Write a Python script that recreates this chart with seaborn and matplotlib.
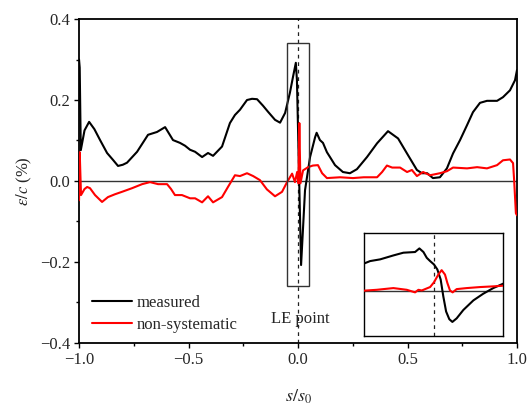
import numpy as np
import pandas as pd
import matplotlib
matplotlib.use("Agg")
import matplotlib.pyplot as plt
from matplotlib.patches import Rectangle
from matplotlib.ticker import MultipleLocator
import seaborn as sns

# Measured error along the normalised surface coordinate
s_measured = [-1.0, -0.997, -0.992, -0.975, -0.954, -0.930, -0.904, -0.872, -0.845,
              -0.822, -0.800, -0.781, -0.735, -0.685, -0.644, -0.607, -0.571, -0.539,
              -0.516, -0.493, -0.470, -0.438, -0.411, -0.388, -0.347, -0.311, -0.288,
              -0.265, -0.233, -0.210, -0.187, -0.160, -0.137, -0.105, -0.082, -0.059,
              -0.037, -0.023, -0.010, -0.005, 0.014, 0.032, 0.055, 0.078, 0.085,
              0.100, 0.114, 0.132, 0.146, 0.169, 0.205, 0.237, 0.269, 0.315, 0.361,
              0.411, 0.457, 0.502, 0.543, 0.566, 0.590, 0.616, 0.648, 0.680, 0.708,
              0.740, 0.772, 0.799, 0.831, 0.863, 0.909, 0.936, 0.968, 0.991, 1.0]
e_measured = [0.300, 0.280, 0.076, 0.125, 0.146, 0.128, 0.101, 0.069, 0.052,
              0.037, 0.040, 0.045, 0.072, 0.114, 0.121, 0.133, 0.101, 0.094,
              0.087, 0.077, 0.072, 0.059, 0.069, 0.062, 0.085, 0.143, 0.163,
              0.176, 0.200, 0.203, 0.202, 0.186, 0.171, 0.151, 0.144, 0.168,
              0.218, 0.257, 0.292, 0.250, -0.208, -0.023, 0.059, 0.108, 0.119,
              0.101, 0.094, 0.071, 0.059, 0.039, 0.022, 0.019, 0.029, 0.059, 0.093,
              0.123, 0.105, 0.064, 0.027, 0.019, 0.019, 0.007, 0.009, 0.031, 0.068,
              0.101, 0.138, 0.170, 0.193, 0.198, 0.198, 0.207, 0.224, 0.249, 0.274]

# Non-systematic part of the error
s_nonsys = [-1.0, -0.997, -0.991, -0.975, -0.963, -0.950, -0.927, -0.895, -0.868,
            -0.836, -0.804, -0.758, -0.712, -0.676, -0.639, -0.598, -0.580, -0.562,
            -0.530, -0.493, -0.470, -0.438, -0.411, -0.388, -0.347, -0.320, -0.288,
            -0.265, -0.233, -0.205, -0.174, -0.142, -0.105, -0.073, -0.050, -0.027,
            -0.014, -0.004, 0.002, 0.006, 0.011, 0.023, 0.046, 0.068, 0.091, 0.110,
            0.132, 0.192, 0.251, 0.300, 0.361, 0.384, 0.406, 0.430, 0.466, 0.498,
            0.520, 0.543, 0.571, 0.603, 0.648, 0.680, 0.708, 0.772, 0.818, 0.863,
            0.909, 0.936, 0.968, 0.982, 0.987, 0.995, 1.0]
e_nonsys = [-0.048, 0.071, -0.035, -0.020, -0.015, -0.018, -0.035, -0.052, -0.040,
            -0.033, -0.027, -0.018, -0.008, -0.003, -0.008, -0.008, -0.020, -0.035,
            -0.035, -0.043, -0.043, -0.053, -0.038, -0.053, -0.040, -0.015, 0.014,
            0.012, 0.019, 0.012, 0.002, -0.021, -0.038, -0.027, -0.003, 0.018,
            -0.003, 0.022, -0.006, 0.143, -0.006, 0.026, 0.034, 0.038, 0.039, 0.019,
            0.007, 0.009, 0.007, 0.009, 0.009, 0.022, 0.038, 0.033, 0.033, 0.022,
            0.027, 0.012, 0.022, 0.014, 0.019, 0.024, 0.033, 0.031, 0.034, 0.031,
            0.039, 0.051, 0.053, 0.044, 0.002, -0.080, -0.085]

# Detail around the leading edge (inset)
s_le_measured = [-0.050, -0.0457, -0.0385, -0.029, -0.0218, -0.0134, -0.0103, -0.0074,
                 -0.005, -0.0026, 0.0002, 0.0026, 0.005, 0.0069, 0.0089, 0.0112,
                 0.0134, 0.0165, 0.0213, 0.0285, 0.0356, 0.0428, 0.050]
e_le_measured = [0.163, 0.177, 0.187, 0.210, 0.226, 0.230, 0.251, 0.230,
                 0.196, 0.177, 0.157, 0.128, 0.069, -0.030, -0.118, -0.163,
                 -0.179, -0.158, -0.109, -0.053, -0.014, 0.019, 0.045]
s_le_nonsys = [-0.050, -0.0409, -0.029, -0.0194, -0.0134, -0.011, -0.0086, -0.0062,
               -0.0026, 0.0002, 0.0033, 0.0057, 0.0081, 0.0098, 0.0117, 0.0136,
               0.0165, 0.0237, 0.0333, 0.0428, 0.050]
e_le_nonsys = [0.004, 0.009, 0.019, 0.009, -0.006, 0.009, 0.005, 0.013,
               0.025, 0.053, 0.098, 0.124, 0.098, 0.049, 0.005, -0.006,
               0.013, 0.019, 0.025, 0.029, 0.033]

series_labels = ["measured", "non-systematic"]
series_colors = ["#000000", "#ff0000"]

sns.set_theme(style="ticks")
plt.rcParams["font.family"] = ["Liberation Serif", "DejaVu Serif"]
plt.rcParams["mathtext.fontset"] = "stix"

fig = plt.figure(figsize=(5.27, 4.07), dpi=100)
ax = fig.add_axes([0.150, 0.158, 0.831, 0.795])

df = pd.concat([
    pd.DataFrame({"s": s_measured, "e": e_measured, "kind": series_labels[0]}),
    pd.DataFrame({"s": s_nonsys, "e": e_nonsys, "kind": series_labels[1]}),
])

ax.axhline(0, color="#333333", lw=1.0, zorder=1)
ax.axvline(0, color="#222222", lw=0.9, ls=(0, (3, 3)), zorder=1)

sns.lineplot(data=df, x="s", y="e", hue="kind", palette=series_colors,
             sort=False, estimator=None, lw=1.5, ax=ax, zorder=3)

ax.add_patch(Rectangle((-0.05, -0.26), 0.10, 0.60, fill=False,
                       edgecolor="#333333", lw=1.0, zorder=4))
ax.text(0.01, -0.342, "LE point", ha="center", va="center", fontsize=12)

ax.set_xlim(-1.0, 1.0)
ax.set_ylim(-0.4, 0.4)
ax.xaxis.set_major_locator(MultipleLocator(0.5))
ax.xaxis.set_minor_locator(MultipleLocator(0.25))
ax.yaxis.set_major_locator(MultipleLocator(0.2))
ax.yaxis.set_minor_locator(MultipleLocator(0.1))
ax.xaxis.set_major_formatter(matplotlib.ticker.FuncFormatter(
    lambda v, p: f"{v:.1f}".replace("-", "\u2212")))
ax.yaxis.set_major_formatter(matplotlib.ticker.FuncFormatter(
    lambda v, p: f"{v:.1f}".replace("-", "\u2212")))
ax.tick_params(which="major", direction="out", length=3.5, width=1.0,
               labelsize=12, pad=3, color="black")
ax.tick_params(which="minor", direction="out", length=2.2, width=1.0, color="black")
for sp in ax.spines.values():
    sp.set_linewidth(1.3)
    sp.set_color("black")

ax.set_xlabel(r"$s/s_{\mathit{0}}$", fontsize=13, labelpad=14)
ax.set_ylabel(r"$\varepsilon/c$ (%)", fontsize=12, labelpad=4)

ax.legend(loc="lower left", bbox_to_anchor=(0.0, -0.008), frameon=False,
          fontsize=12, handlelength=2.4, handletextpad=0.3,
          labelspacing=0.35, borderaxespad=0.35)

# Inset: leading-edge region
ins = fig.add_axes([0.691, 0.175, 0.264, 0.252])
ins.axhline(0, color="#333333", lw=1.0, zorder=1)
ins.axvline(0, color="#222222", lw=0.9, ls=(0, (3, 3)), zorder=1)
sns.lineplot(x=s_le_measured, y=e_le_measured, color=series_colors[0], lw=1.5,
             sort=False, estimator=None, ax=ins, zorder=3)
sns.lineplot(x=s_le_nonsys, y=e_le_nonsys, color=series_colors[1], lw=1.5,
             sort=False, estimator=None, ax=ins, zorder=3)
ins.set_xlim(-0.05, 0.05)
ins.set_ylim(-0.26, 0.34)
ins.set_xticks([])
ins.set_yticks([])
ins.set_xlabel("")
ins.set_ylabel("")
for sp in ins.spines.values():
    sp.set_linewidth(1.0)
    sp.set_color("black")

fig.savefig("out.png", dpi=100)
